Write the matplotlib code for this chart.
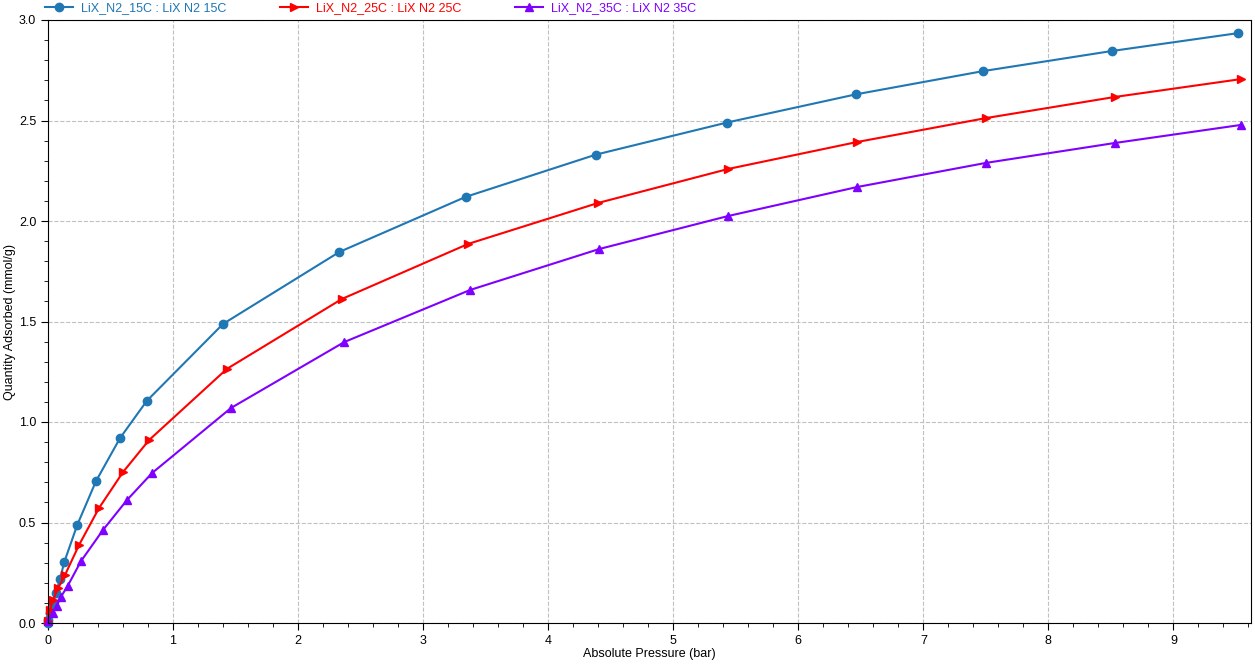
import matplotlib.pyplot as plt
from matplotlib.ticker import MultipleLocator

plt.rcParams['font.family'] = ['Liberation Sans', 'DejaVu Sans']

# isotherm data
p15 = [0.0, 0.002, 0.016, 0.042, 0.062, 0.096, 0.13, 0.234, 0.384, 0.576, 0.79, 1.40,
       2.33, 3.34, 4.38, 5.43, 6.46, 7.48, 8.51, 9.52]
q15 = [0.0, 0.015, 0.05, 0.095, 0.149, 0.219, 0.303, 0.488, 0.706, 0.92, 1.105, 1.488,
       1.846, 2.12, 2.33, 2.49, 2.63, 2.746, 2.846, 2.935]

p25 = [0.0, 0.016, 0.04, 0.082, 0.136, 0.248, 0.408, 0.60, 0.808, 1.43,
       2.35, 3.36, 4.40, 5.44, 6.47, 7.50, 8.53, 9.54]
q25 = [0.01, 0.065, 0.115, 0.174, 0.239, 0.388, 0.572, 0.751, 0.91, 1.264,
       1.612, 1.886, 2.09, 2.259, 2.393, 2.512, 2.617, 2.706]

p35 = [0.0, 0.04, 0.07, 0.104, 0.157, 0.264, 0.44, 0.632, 0.832, 1.464,
       2.37, 3.376, 4.41, 5.44, 6.47, 7.50, 8.53, 9.54]
q35 = [0.01, 0.05, 0.085, 0.131, 0.184, 0.308, 0.463, 0.612, 0.746, 1.07,
       1.398, 1.657, 1.861, 2.025, 2.169, 2.289, 2.388, 2.478]

labels = ['LiX_N2_15C : LiX N2 15C', 'LiX_N2_25C : LiX N2 25C', 'LiX_N2_35C : LiX N2 35C']
colors = ['#1f77b4', '#ff0000', '#8000ff']
markers = ['o', '>', '^']

fig = plt.figure(figsize=(12.55, 6.64), dpi=100)
ax = fig.add_axes([48 / 1255, 41 / 664, 1203 / 1255, 603 / 664])

for p, q, c, m, lab in zip([p15, p25, p35], [q15, q25, q35], colors, markers, labels):
    ax.plot(p, q, color=c, marker=m, markersize=6, linewidth=1.5, label=lab, clip_on=False)

ax.set_xlim(0, 9.62)
ax.set_ylim(0, 3.0)
ax.xaxis.set_major_locator(MultipleLocator(1))
ax.xaxis.set_minor_locator(MultipleLocator(0.2))
ax.yaxis.set_major_locator(MultipleLocator(0.5))
ax.yaxis.set_minor_locator(MultipleLocator(0.1))
ax.yaxis.set_major_formatter(plt.FormatStrFormatter('%.1f'))
ax.tick_params(which='major', direction='out', length=5, labelsize=9)
ax.tick_params(which='minor', direction='out', length=3)
ax.grid(True, which='major', linestyle='--', color='#c0c0c0', linewidth=0.8)
ax.set_axisbelow(True)

ax.set_xlabel('Absolute Pressure (bar)', fontsize=9, labelpad=1)
ax.set_ylabel('Quantity Adsorbed (mmol/g)', fontsize=9)
ax.yaxis.set_label_coords(-0.027, 0.5)

leg = fig.legend(loc='upper left', bbox_to_anchor=(43 / 1255, 1.0), ncol=3, frameon=False,
                 fontsize=9, handlelength=2.24, handletextpad=0.64, columnspacing=4.3,
                 borderaxespad=0, borderpad=0.15)
for txt, c in zip(leg.get_texts(), colors):
    txt.set_color(c)

fig.savefig('out.png', dpi=100)
